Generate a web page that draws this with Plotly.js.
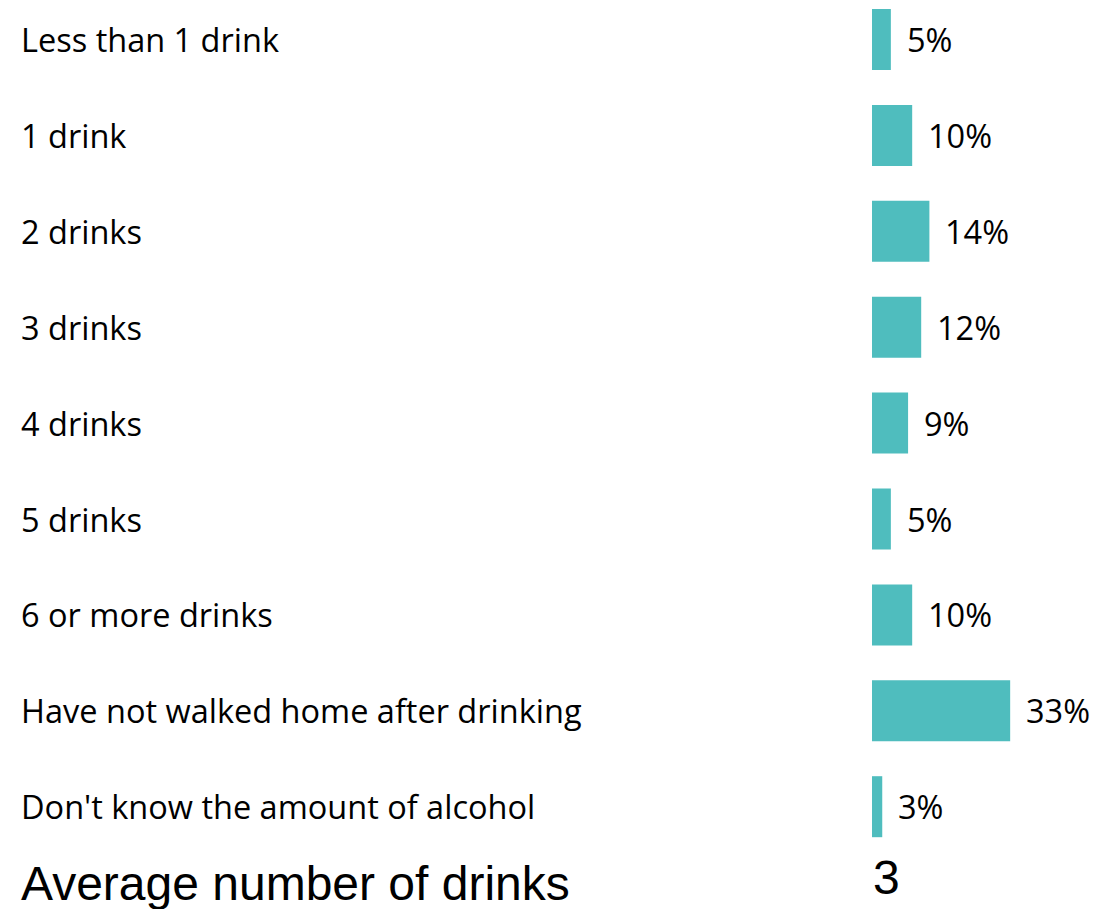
<!DOCTYPE html>
<html>
<head>
<meta charset="utf-8">
<script src="https://cdn.plot.ly/plotly-3.0.1.min.js"></script>
<style>
  html, body { margin: 0; padding: 0; background: #ffffff; }
  #chart { width: 1097px; height: 909px; }
</style>
</head>
<body>
<div id="chart"></div>
<script>
// ---- Data ----
const categories = [
  "Less than 1 drink",
  "1 drink",
  "2 drinks",
  "3 drinks",
  "4 drinks",
  "5 drinks",
  "6 or more drinks",
  "Have not walked home after drinking",
  "Don't know the amount of alcohol"
];
const values = [4.6, 9.8, 14.0, 12.0, 8.8, 4.6, 9.8, 33.7, 2.5];
const valueLabels = ["5%", "10%", "14%", "12%", "9%", "5%", "10%", "33%", "3%"];
const summaryLabel = "Average number of drinks";
const summaryValue = "3";

// ---- Styling / layout constants ----
const W = 1097, H = 909;
const plotLeft = 872;
const plotWidth = W - plotLeft;
const pxPerUnit = 4.1;
const rowPx = 95.9;
const firstRowCenter = 39.5;
const barColor = "#4FBDBE";
const labelFont = { family: "'Open Sans', 'Noto Sans', sans-serif", size: 32.5, color: "#000000" };
const bigFont = { family: "'Liberation Sans', Arial, sans-serif", size: 48, color: "#000000" };

const trace = {
  type: "bar",
  orientation: "h",
  y: categories,
  x: values,
  marker: { color: barColor, line: { width: 0 } },
  hoverinfo: "none",
  showlegend: false
};

const annotations = [];
categories.forEach((c, i) => {
  annotations.push({
    xref: "paper", yref: "y",
    x: (19 - plotLeft) / plotWidth, y: c,
    xanchor: "left", yanchor: "middle",
    text: c, showarrow: false, font: labelFont
  });
  annotations.push({
    xref: "x", yref: "y",
    x: values[i], y: c,
    xanchor: "left", yanchor: "middle", xshift: 14,
    text: valueLabels[i], showarrow: false, font: labelFont
  });
});
annotations.push({
  xref: "paper", yref: "paper",
  x: (19 - plotLeft) / plotWidth, y: 1 - 883 / H,
  xanchor: "left", yanchor: "middle",
  text: summaryLabel, showarrow: false, font: bigFont
});
annotations.push({
  xref: "paper", yref: "paper",
  x: (871 - plotLeft) / plotWidth, y: 1 - 877 / H,
  xanchor: "left", yanchor: "middle",
  text: summaryValue, showarrow: false, font: bigFont
});

const layout = {
  width: W, height: H,
  margin: { l: plotLeft, r: 0, t: 0, b: 0, pad: 0 },
  paper_bgcolor: "#ffffff",
  plot_bgcolor: "#ffffff",
  bargap: 0.364,
  xaxis: { range: [0, plotWidth / pxPerUnit], visible: false, fixedrange: true },
  yaxis: {
    type: "category",
    range: [(H - firstRowCenter) / rowPx, -firstRowCenter / rowPx],
    visible: false, fixedrange: true
  },
  annotations: annotations,
  showlegend: false
};

Plotly.newPlot("chart", [trace], layout, { staticPlot: true, displayModeBar: false });
</script>
</body>
</html>
